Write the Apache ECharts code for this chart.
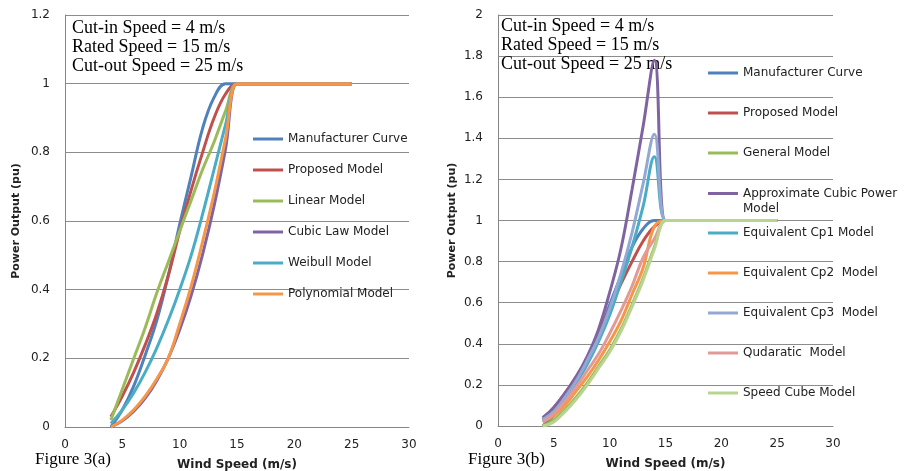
<!DOCTYPE html>
<html>
<head>
<meta charset="utf-8">
<script src="https://cdn.jsdelivr.net/npm/echarts@6/dist/echarts.min.js"></script>
<style>
  html, body { margin: 0; padding: 0; background: #fff; }
  #chart { width: 913px; height: 471px; }
</style>
</head>
<body>
<div id="chart"></div>
<script>
// Wind speed samples (m/s) shared by every curve
const windSpeed = [4, 5, 6, 7, 8, 9, 10, 11, 12, 13, 14, 15, 16, 17, 18, 19, 20, 21, 22, 23, 24, 25];

// Figure 3(a) power curves (pu)
const manufacturerCurve = [0, 0.05, 0.12, 0.21, 0.31, 0.44, 0.59, 0.73, 0.87, 0.96, 1.0, 1, 1, 1, 1, 1, 1, 1, 1, 1, 1, 1];
const proposedModel = [0.03, 0.09, 0.16, 0.24, 0.33, 0.44, 0.57, 0.69, 0.8, 0.9, 0.97, 1, 1, 1, 1, 1, 1, 1, 1, 1, 1, 1];
const linearModel = [0.02, 0.11, 0.2, 0.29, 0.39, 0.48, 0.57, 0.66, 0.75, 0.83, 0.92, 1, 1, 1, 1, 1, 1, 1, 1, 1, 1, 1];
const cubicLawModel = [0, 0.018, 0.046, 0.084, 0.135, 0.2, 0.283, 0.383, 0.503, 0.644, 0.81, 1, 1, 1, 1, 1, 1, 1, 1, 1, 1, 1];
const weibullModel = [0.01, 0.05, 0.1, 0.16, 0.23, 0.31, 0.4, 0.5, 0.62, 0.75, 0.88, 1, 1, 1, 1, 1, 1, 1, 1, 1, 1, 1];
const polynomialModel = [0, 0.02, 0.05, 0.09, 0.14, 0.2, 0.3, 0.41, 0.54, 0.68, 0.84, 1, 1, 1, 1, 1, 1, 1, 1, 1, 1, 1];

// Figure 3(b) power curves (pu)
const generalModel = [0, 0.03, 0.08, 0.14, 0.21, 0.29, 0.37, 0.47, 0.59, 0.72, 0.87, 1, 1, 1, 1, 1, 1, 1, 1, 1, 1, 1];
const approxCubicModel = [0.04, 0.09, 0.16, 0.24, 0.34, 0.47, 0.65, 0.86, 1.15, 1.46, 1.78, 1, 1, 1, 1, 1, 1, 1, 1, 1, 1, 1];
const cp1Model = [0.03, 0.07, 0.13, 0.21, 0.3, 0.41, 0.54, 0.7, 0.87, 1.07, 1.31, 1, 1, 1, 1, 1, 1, 1, 1, 1, 1, 1];
const cp2Model = [0.02, 0.05, 0.1, 0.17, 0.24, 0.32, 0.41, 0.51, 0.64, 0.77, 0.97, 1, 1, 1, 1, 1, 1, 1, 1, 1, 1, 1];
const cp3Model = [0.03, 0.07, 0.14, 0.22, 0.32, 0.43, 0.57, 0.74, 0.94, 1.18, 1.42, 1, 1, 1, 1, 1, 1, 1, 1, 1, 1, 1];
const quadraticModel = [0.02, 0.06, 0.12, 0.19, 0.27, 0.35, 0.45, 0.56, 0.68, 0.82, 0.91, 1, 1, 1, 1, 1, 1, 1, 1, 1, 1, 1];
const speedCubeModel = [0, 0.02, 0.07, 0.13, 0.2, 0.28, 0.36, 0.46, 0.58, 0.71, 0.86, 1, 1, 1, 1, 1, 1, 1, 1, 1, 1, 1];

// Axis ticks
const xTicks = { min: 0, max: 30, interval: 5 };
const yTicksA = { min: 0, max: 1.2, interval: 0.2 };
const yTicksB = { min: 0, max: 2, interval: 0.2 };

const leftSeries = [
  ['Manufacturer Curve', manufacturerCurve, '#4F81BD'],
  ['Proposed Model', proposedModel, '#C0504D'],
  ['Linear Model', linearModel, '#9BBB59'],
  ['Cubic Law Model', cubicLawModel, '#8064A2'],
  ['Weibull Model', weibullModel, '#4BACC6'],
  ['Polynomial Model', polynomialModel, '#F79646']
];
const rightSeries = [
  ['Manufacturer Curve', manufacturerCurve, '#4F81BD'],
  ['Proposed Model', proposedModel, '#C0504D'],
  ['General Model', generalModel, '#9BBB59'],
  ['Approximate Cubic Power Model', approxCubicModel, '#8064A2'],
  ['Equivalent Cp1 Model', cp1Model, '#4BACC6'],
  ['Equivalent Cp2  Model', cp2Model, '#F79646'],
  ['Equivalent Cp3  Model', cp3Model, '#93A9D4'],
  ['Qudaratic  Model', quadraticModel, '#E09A98'],
  ['Speed Cube Model', speedCubeModel, '#B8D48E']
];

const FONT = 'DejaVu Sans';
const SERIF = 'Liberation Serif';

function makeXAxis(gridIndex) {
  return {
    type: 'value', gridIndex: gridIndex,
    min: xTicks.min, max: xTicks.max, interval: xTicks.interval,
    name: 'Wind Speed (m/s)', nameLocation: 'middle', nameGap: 32,
    nameTextStyle: { fontFamily: FONT, fontSize: 12, fontWeight: 'bold', color: '#222' },
    axisLine: { show: true, lineStyle: { color: '#868686', width: 1 } },
    axisTick: { show: false },
    splitLine: { show: false },
    axisLabel: { fontFamily: FONT, fontSize: 12, color: '#222', margin: 12 }
  };
}
function makeYAxis(gridIndex, ticks, gap) {
  return {
    type: 'value', gridIndex: gridIndex,
    min: ticks.min, max: ticks.max, interval: ticks.interval,
    name: 'Power Output (pu)', nameLocation: 'middle', nameGap: gap,
    nameTextStyle: { fontFamily: FONT, fontSize: 11, fontWeight: 'bold', color: '#222' },
    axisLine: { show: true, lineStyle: { color: '#868686', width: 1 } },
    axisTick: { show: false },
    splitLine: { show: true, lineStyle: { color: '#8c8c8c', width: 1 } },
    axisLabel: { fontFamily: FONT, fontSize: 12, color: '#222', margin: 15 }
  };
}
function makeSeries(list, axisIndex) {
  return list.map(function (s) {
    return {
      name: s[0], type: 'line',
      xAxisIndex: axisIndex, yAxisIndex: axisIndex,
      data: windSpeed.map(function (w, i) { return [w, s[1][i]]; }),
      color: s[2],
      smooth: 0.4,
      showSymbol: false,
      lineStyle: { width: 3, color: s[2] },
      z: 3
    };
  });
}

const legendText = { fontFamily: FONT, fontSize: 12, color: '#222' };
const legendBase = {
  orient: 'vertical', icon: 'rect', itemWidth: 30, itemHeight: 3,
  padding: 0, textStyle: legendText, selectedMode: false
};

const chart = echarts.init(document.getElementById('chart'), null, { renderer: 'canvas' });
chart.setOption({
  animation: false,
  backgroundColor: '#ffffff',
  grid: [
    { left: 65, top: 15, width: 344, height: 412, outerBoundsMode: 'none', containLabel: false },
    { left: 498, top: 15, width: 335, height: 411, outerBoundsMode: 'none', containLabel: false }
  ],
  xAxis: [makeXAxis(0), makeXAxis(1)],
  yAxis: [makeYAxis(0, yTicksA, 43), makeYAxis(1, yTicksB, 40)],
  legend: [
    Object.assign({}, legendBase, {
      left: 253, top: 133, itemGap: 19,
      data: leftSeries.map(function (s) { return s[0]; })
    }),
    Object.assign({}, legendBase, {
      left: 708, top: 67, itemGap: 28,
      data: rightSeries.slice(0, 3).map(function (s) { return s[0]; })
    }),
    Object.assign({}, legendBase, {
      // blank first line keeps the swatch level with the first text line
      left: 708, top: 171,
      formatter: function () { return '\nApproximate Cubic Power\nModel'; },
      textStyle: Object.assign({}, legendText, { lineHeight: 15 }),
      data: [rightSeries[3][0]]
    }),
    Object.assign({}, legendBase, {
      left: 708, top: 227, itemGap: 28,
      data: rightSeries.slice(4).map(function (s) { return s[0]; })
    })
  ],
  graphic: [
    { type: 'text', left: 72, top: 19, z: 1,
      style: { text: 'Cut-in Speed = 4 m/s\nRated Speed = 15 m/s\nCut-out Speed = 25 m/s',
               font: '18px "' + SERIF + '"', fill: '#000', lineHeight: 19 } },
    { type: 'text', left: 501, top: 17, z: 1,
      style: { text: 'Cut-in Speed = 4 m/s\nRated Speed = 15 m/s\nCut-out Speed = 25 m/s',
               font: '18px "' + SERIF + '"', fill: '#000', lineHeight: 19 } },
    { type: 'text', left: 35, top: 451, z: 1,
      style: { text: 'Figure 3(a)', font: '17px "' + SERIF + '"', fill: '#000' } },
    { type: 'text', left: 468, top: 451, z: 1,
      style: { text: 'Figure 3(b)', font: '17px "' + SERIF + '"', fill: '#000' } }
  ],
  series: makeSeries(leftSeries, 0).concat(makeSeries(rightSeries, 1))
});
</script>
</body>
</html>
